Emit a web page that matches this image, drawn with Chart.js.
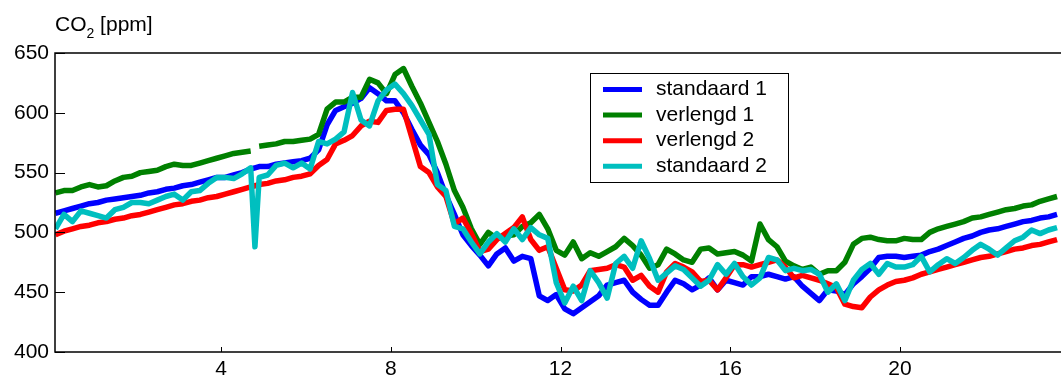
<!DOCTYPE html>
<html>
<head>
<meta charset="utf-8">
<script src="https://cdn.jsdelivr.net/npm/chart.js@4.4.1/dist/chart.umd.min.js"></script>
<style>
    html, body { margin: 0; padding: 0; background: #fff; }
    #co2-chart { display: block; }
</style>
</head>
<body>
<canvas id="co2-chart" width="1061" height="380"></canvas>
<script>
// time of day (hours), one sample per 0.2 h (extra sample at 4.8 for the glitch)
const hours = [
    0.1, 0.3, 0.5, 0.7, 0.9, 1.1, 1.3, 1.5, 1.7, 1.9,
    2.1, 2.3, 2.5, 2.7, 2.9, 3.1, 3.3, 3.5, 3.7, 3.9,
    4.1, 4.3, 4.5, 4.7, 4.8, 4.9, 5.1, 5.3, 5.5, 5.7, 5.9,
    6.1, 6.3, 6.5, 6.7, 6.9, 7.1, 7.3, 7.5, 7.7, 7.9,
    8.1, 8.3, 8.5, 8.7, 8.9, 9.1, 9.3, 9.5, 9.7, 9.9,
    10.1, 10.3, 10.5, 10.7, 10.9, 11.1, 11.3, 11.5, 11.7, 11.9,
    12.1, 12.3, 12.5, 12.7, 12.9, 13.1, 13.3, 13.5, 13.7, 13.9,
    14.1, 14.3, 14.5, 14.7, 14.9, 15.1, 15.3, 15.5, 15.7, 15.9,
    16.1, 16.3, 16.5, 16.7, 16.9, 17.1, 17.3, 17.5, 17.7, 17.9,
    18.1, 18.3, 18.5, 18.7, 18.9, 19.1, 19.3, 19.5, 19.7, 19.9,
    20.1, 20.3, 20.5, 20.7, 20.9, 21.1, 21.3, 21.5, 21.7, 21.9,
    22.1, 22.3, 22.5, 22.7, 22.9, 23.1, 23.3, 23.5, 23.7,
]

const standaard1 = [
    516, 518, 520, 522, 524, 525, 527, 528, 529, 530,
    531, 533, 534, 536, 537, 539, 540, 542, 544, 546,
    546, 548, 550, 553, 554, 555, 555, 557, 558, 559, 560,
    562, 569, 590, 602, 605, 608, 612, 621, 616, 610,
    610, 600, 586, 573, 565, 550, 531, 515, 498, 489,
    481, 472, 482, 487, 476, 480, 478, 447, 443, 448,
    436, 432, 437, 442, 447, 456, 458, 460, 450, 444,
    439, 439, 450, 460, 457, 452, 456, 462, 452, 460,
    458, 456, 463, 463, 465, 463, 461, 463, 455, 449,
    443, 452, 451, 448, 457, 463, 470, 479, 480, 480,
    479, 480, 481, 484, 486, 489, 492, 495, 497, 500,
    502, 503, 505, 507, 509, 510, 512, 513, 515,
]

const verlengd1 = [
    533, 535, 535, 538, 540, 538, 539, 543, 546, 547,
    550, 551, 552, 555, 557, 556, 556, 558, 560, 562,
    564, 566, 567, 568, null, 572, 573, 574, 576, 576, 577,
    578, 582, 603, 609, 609, 613, 613, 628, 625, 616,
    632, 637, 622, 608, 592, 576, 557, 535, 521, 503,
    490, 500, 495, 497, 498, 505, 508, 515, 503, 485,
    481, 492, 478, 483, 480, 484, 488, 495, 489, 481,
    470, 473, 486, 482, 477, 475, 486, 487, 482, 483,
    484, 481, 476, 507, 494, 488, 476, 472, 469, 471,
    465, 468, 468, 475, 490, 495, 496, 494, 493, 493,
    495, 494, 494, 500, 503, 505, 507, 509, 512, 513,
    515, 517, 519, 520, 522, 523, 526, 528, 530,
]

const verlengd2 = [
    498, 501, 503, 505, 506, 508, 509, 511, 512, 514,
    515, 517, 519, 521, 523, 524, 526, 527, 529, 530,
    532, 534, 536, 538, 539, 540, 541, 543, 544, 546, 547,
    549, 556, 561, 574, 577, 581, 589, 593, 592, 602,
    603, 603, 579, 555, 550, 538, 530, 507, 512, 499,
    484, 486, 494, 499, 504, 513, 494, 485, 488, 470,
    452, 451, 456, 468, 469, 470, 473, 471, 460, 464,
    455, 450, 467, 474, 471, 467, 459, 460, 452, 462,
    473, 473, 471, 473, 475, 477, 471, 462, 464, 462,
    460, 457, 454, 440, 438, 437, 446, 452, 456, 459,
    460, 462, 465, 467, 469, 471, 473, 475, 477, 479,
    480, 482, 484, 486, 487, 489, 490, 492, 494,
]

const standaard2 = [
    503, 515, 509, 518, 516, 514, 512, 519, 521, 525,
    525, 524, 527, 530, 532, 527, 534, 535, 541, 546,
    546, 545, 549, 554, 488, 546, 548, 556, 558, 554, 558,
    553, 576, 574, 578, 584, 617, 594, 589, 610, 619,
    624, 616, 606, 594, 582, 540, 535, 505, 503, 492,
    482, 492, 499, 492, 503, 494, 504, 498, 495, 458,
    441, 455, 443, 468, 458, 445, 474, 480, 470, 493,
    478, 460, 466, 472, 469, 462, 455, 460, 473, 465,
    474, 463, 456, 462, 479, 477, 468, 470, 468, 469,
    465, 450, 457, 443, 460, 469, 474, 465, 474, 471,
    471, 473, 480, 467, 473, 478, 474, 479, 485, 490,
    486, 481, 487, 493, 496, 502, 499, 502, 504,
]

const seriesLabels = ["standaard 1", "verlengd 1", "verlengd 2", "standaard 2"]
const seriesColors = ["#0000ff", "#008000", "#ff0000", "#00bfbf"]
const xTicks = [4, 8, 12, 16, 20]
const yTicks = [400, 450, 500, 550, 600, 650]

const fontFamily = "'Liberation Sans', Arial, Helvetica, sans-serif"

function toPoints(values) {
    return values.map((v, i) => ({ x: hours[i], y: v }))
}

// matplotlib-like frame: box, inward ticks, axis label and legend box
const framePlugin = {
    id: "frame",
    afterDraw(chart) {
        const { ctx, chartArea, scales } = chart
        const { left, top, right, bottom } = chartArea
        ctx.save()

        // inward tick marks
        ctx.strokeStyle = "#000"
        ctx.lineWidth = 1
        ctx.beginPath()
        xTicks.forEach((v) => {
            const x = Math.round(scales.x.getPixelForValue(v)) + 0.5
            ctx.moveTo(x, bottom)
            ctx.lineTo(x, bottom - 5)
        })
        yTicks.forEach((v) => {
            const y = Math.round(scales.y.getPixelForValue(v)) + 0.5
            ctx.moveTo(left, y)
            ctx.lineTo(left + 10, y)
        })
        ctx.stroke()

        // frame (right side runs off the canvas)
        ctx.lineWidth = 1.5
        ctx.strokeRect(left, top, right - left + 10, bottom - top)

        // y label: CO2 [ppm]
        ctx.fillStyle = "#000"
        ctx.textBaseline = "alphabetic"
        ctx.textAlign = "left"
        ctx.font = `21px ${fontFamily}`
        let x = left
        ctx.fillText("CO", x, 30.5)
        x += ctx.measureText("CO").width
        ctx.font = `14px ${fontFamily}`
        ctx.fillText("2", x, 38)
        x += ctx.measureText("2").width
        ctx.font = `21px ${fontFamily}`
        ctx.fillText(" [ppm]", x, 30.5)

        // legend
        const box = { x: 590.5, y: 73.5, w: 198, h: 109 }
        ctx.fillStyle = "#fff"
        ctx.fillRect(box.x, box.y, box.w, box.h)
        ctx.lineWidth = 1
        ctx.strokeStyle = "#000"
        ctx.strokeRect(box.x, box.y, box.w, box.h)
        ctx.textBaseline = "middle"
        chart.data.datasets.forEach((ds, i) => {
            const y = 89.5 + i * 25.6
            ctx.strokeStyle = ds.borderColor
            ctx.lineWidth = 5
            ctx.beginPath()
            ctx.moveTo(603, y)
            ctx.lineTo(642, y)
            ctx.stroke()
            ctx.fillStyle = "#000"
            ctx.fillText(ds.label, 656, y)
        })

        ctx.restore()
    },
}

const series = [standaard1, verlengd1, verlengd2, standaard2]

const canvas = document.getElementById("co2-chart")
const co2Chart = new Chart(canvas, {
    type: "line",
    data: {
        datasets: series.map((values, i) => ({
            label: seriesLabels[i],
            data: toPoints(values),
            borderColor: seriesColors[i],
            backgroundColor: seriesColors[i],
            borderWidth: 5.5,
            borderJoinStyle: "round",
            pointRadius: 0,
            tension: 0,
            spanGaps: false,
            // later series drawn on top
            order: series.length - i,
        })),
    },
    options: {
        responsive: false,
        animation: false,
        devicePixelRatio: 1,
        layout: {
            padding: { left: 0, top: 53, right: 0, bottom: 0 },
        },
        plugins: {
            legend: { display: false },
            tooltip: { enabled: false },
        },
        scales: {
            x: {
                type: "linear",
                min: 0.089,
                max: 23.793,
                grid: { display: false, drawTicks: false },
                border: { display: false },
                afterBuildTicks: (scale) => {
                    scale.ticks = xTicks.map((v) => ({ value: v }))
                },
                afterFit: (scale) => {
                    scale.height = 28
                },
                ticks: {
                    padding: 5,
                    color: "#000",
                    maxRotation: 0,
                    font: { family: fontFamily, size: 21 },
                },
            },
            y: {
                min: 400,
                max: 650,
                grid: { display: false, drawTicks: false },
                border: { display: false },
                afterBuildTicks: (scale) => {
                    scale.ticks = yTicks.map((v) => ({ value: v }))
                },
                afterFit: (scale) => {
                    scale.width = 55
                },
                ticks: {
                    padding: 6,
                    color: "#000",
                    font: { family: fontFamily, size: 21 },
                },
            },
        },
    },
    plugins: [framePlugin],
})
</script>
</body>
</html>
